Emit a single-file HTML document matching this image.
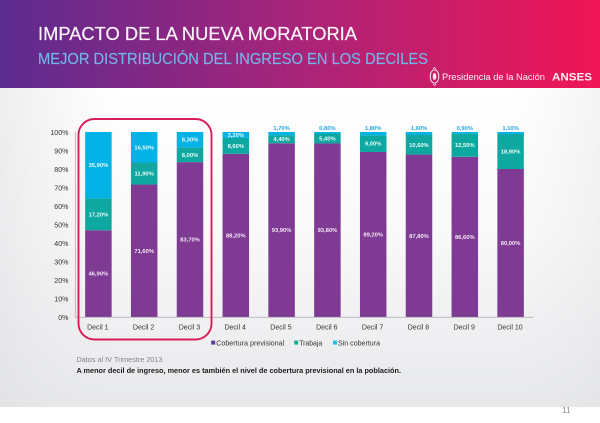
<!DOCTYPE html>
<html lang="es">
<head>
<meta charset="utf-8">
<title>Impacto de la nueva moratoria</title>
<style>
html,body{margin:0;padding:0;background:#fff;width:600px;height:423px;overflow:hidden}
svg{display:block;font-family:"Liberation Sans",sans-serif}
</style>
</head>
<body>
<svg id="slide" width="600" height="423" viewBox="0 0 600 423" xmlns="http://www.w3.org/2000/svg">
  <defs>
    <linearGradient id="hdr" x1="0" x2="1" y1="0" y2="0">
      <stop offset="0" stop-color="#5c2b8f"/>
      <stop offset="0.5" stop-color="#a92479"/>
      <stop offset="1" stop-color="#f01555"/>
    </linearGradient>
    <linearGradient id="panel" x1="0" x2="0" y1="0" y2="1">
      <stop offset="0" stop-color="#ffffff"/>
      <stop offset="0.45" stop-color="#f9f9fa"/>
      <stop offset="1" stop-color="#e7e8ea"/>
    </linearGradient>
    <linearGradient id="panelLeft" x1="0" x2="1" y1="0" y2="0">
      <stop offset="0" stop-color="#dfe0e2" stop-opacity="0.55"/>
      <stop offset="0.2" stop-color="#e9eaec" stop-opacity="0"/>
      <stop offset="0.85" stop-color="#e9eaec" stop-opacity="0"/>
      <stop offset="1" stop-color="#dfe0e2" stop-opacity="0.35"/>
    </linearGradient>
  </defs>
  <rect x="0" y="0" width="600" height="88" fill="url(#hdr)"/>
  <rect x="0" y="88" width="600" height="319" fill="url(#panel)"/>
  <rect x="0" y="88" width="600" height="319" fill="url(#panelLeft)"/>
  <text x="38" y="40" font-size="18.5" fill="#fdf3fa" stroke="#fdf3fa" stroke-width="0.2" textLength="319" lengthAdjust="spacingAndGlyphs">IMPACTO DE LA NUEVA MORATORIA</text>
  <text x="38" y="64" font-size="15.7" fill="#72b6ea" stroke="#72b6ea" stroke-width="0.15" textLength="390" lengthAdjust="spacingAndGlyphs">MEJOR DISTRIBUCIÓN DEL INGRESO EN LOS DECILES</text>
  <g fill="none" stroke="#fbe6ee">
    <ellipse cx="434.5" cy="76.5" rx="4.3" ry="6.6" stroke-width="1"/>
    <ellipse cx="434.5" cy="76.5" rx="1.8" ry="3.6" fill="#fbe6ee" stroke="none"/>
    <path d="M433 69l1.5-1.6 1.5 1.6M433 84l1.5 1.6 1.5-1.6" stroke-width="0.8"/>
  </g>
  <text x="442" y="80" font-size="9.6" fill="#fbeef3" textLength="103" lengthAdjust="spacingAndGlyphs">Presidencia de la Nación</text>
  <text x="552" y="80.5" font-size="10.6" font-weight="bold" fill="#fdf0f4" textLength="40" lengthAdjust="spacingAndGlyphs">ANSES</text>

  <g id="chart"></g>

  <rect x="78.5" y="119" width="133" height="220.5" rx="16" ry="16" fill="none" stroke="#d91c5c" stroke-width="1.9"/>

  <g font-size="7.2" fill="#333">
    <g>
      <rect x="211.2" y="340.6" width="4" height="4" fill="#5f3a94"/>
      <text x="216.2" y="345.5" textLength="68" lengthAdjust="spacingAndGlyphs">Cobertura previsional</text>
    </g>
    <g>
      <rect x="294.2" y="340.6" width="4" height="4" fill="#12b08f"/>
      <text x="299.2" y="345.5" textLength="23" lengthAdjust="spacingAndGlyphs">Trabaja</text>
    </g>
    <g>
      <rect x="333" y="340.6" width="4" height="4" fill="#22c0e8"/>
      <text x="338" y="345.5" textLength="42" lengthAdjust="spacingAndGlyphs">Sin cobertura</text>
    </g>
  </g>

  <text x="76.5" y="362" font-size="7.4" fill="#858589" textLength="86" lengthAdjust="spacingAndGlyphs">Datos al IV Trimestre 2013</text>
  <text x="76.5" y="373" font-size="7.4" font-weight="bold" fill="#1c1c1e" textLength="324.5" lengthAdjust="spacingAndGlyphs">A menor decil de ingreso, menor es también el nivel de cobertura previsional en la población.</text>
  <text x="562" y="413" font-size="8.4" fill="#8b8b8e">11</text>
</svg>
<script>
var categories = ['Decil 1','Decil 2','Decil 3','Decil 4','Decil 5','Decil 6','Decil 7','Decil 8','Decil 9','Decil 10'];
var cobertura = [46.9,71.6,83.7,88.2,93.9,93.8,89.2,87.8,86.6,80.0];
var trabaja = [17.2,11.9,8.0,8.6,4.4,5.4,9.0,10.6,12.5,18.9];
var sinCobertura = [35.9,16.5,8.3,3.2,1.7,0.8,1.8,1.6,0.9,1.1];
var yTicks = [0,10,20,30,40,50,60,70,80,90,100];

var NS = 'http://www.w3.org/2000/svg';
var chart = document.getElementById('chart');
var plotLeft = 75.5, plotRight = 533.5, plotTop = 132, plotBottom = 317;
var barWidth = 26.5;

function yScale(v) { return plotBottom - (v / 100) * (plotBottom - plotTop); }
function xCenter(i) { return plotLeft + (plotRight - plotLeft) * (i + 0.5) / categories.length; }
function fmt(v) { return v.toFixed(2).replace('.', ',') + '%'; }

function make(tag, attrs, text) {
  var el = document.createElementNS(NS, tag);
  for (var k in attrs) el.setAttribute(k, attrs[k]);
  if (text !== undefined) el.textContent = text;
  chart.appendChild(el);
  return el;
}

yTicks.forEach(function (t) {
  var tick = make('text', {x: 68.5, y: yScale(t) + 2.8, 'font-size': 7.1, 'text-anchor': 'end', fill: '#333'}, t + '%');
  
  
});

var yAxis = make('line', {x1: plotLeft, x2: plotLeft, y1: plotTop, y2: plotBottom, stroke: '#c4c2c6', 'stroke-width': 1.2});



categories.forEach(function (c, i) {
  var cx = xCenter(i), x = cx - barWidth / 2;
  var base = cobertura[i], mid = base + trabaja[i], top = mid + sinCobertura[i];

  var b1 = make('rect', {x: x, y: yScale(base), width: barWidth, height: yScale(0) - yScale(base), fill: '#7f3a94'});
  
  

  var b2 = make('rect', {x: x, y: yScale(mid), width: barWidth, height: yScale(base) - yScale(mid), fill: '#0ea8a0'});
  
  

  var b3 = make('rect', {x: x, y: yScale(top), width: barWidth, height: yScale(mid) - yScale(top), fill: '#04b2e6'});
  
  

  var l1 = make('text', {x: cx, y: yScale(base / 2) + 2, 'font-size': 5.8, 'font-weight': 'bold', 'text-anchor': 'middle', fill: '#f3e6f5'}, fmt(base));
  
  

  var l2 = make('text', {x: cx, y: yScale(base + trabaja[i] / 2) + 2, 'font-size': 5.8, 'font-weight': 'bold', 'text-anchor': 'middle', fill: '#eafaf8'}, fmt(trabaja[i]));
  
  

  var small = sinCobertura[i] < 3;
  var l3y = small ? plotTop - 2 : yScale(mid + sinCobertura[i] / 2) + 2;
  var l3 = make('text', {x: cx, y: l3y, 'font-size': 5.8, 'font-weight': 'bold', 'text-anchor': 'middle', fill: small ? '#22a7e0' : '#eaf8fd'}, fmt(sinCobertura[i]));
  
  

  var cat = make('text', {x: cx - 0.6, y: 329.5, 'font-size': 7, 'text-anchor': 'middle', fill: '#333'}, c);
  
  
});

var xAxis = make('line', {x1: plotLeft - 0.5, x2: plotRight, y1: plotBottom + 0.3, y2: plotBottom + 0.3, stroke: '#b5b4b8', 'stroke-width': 0.9});


</script>
</body>
</html>
